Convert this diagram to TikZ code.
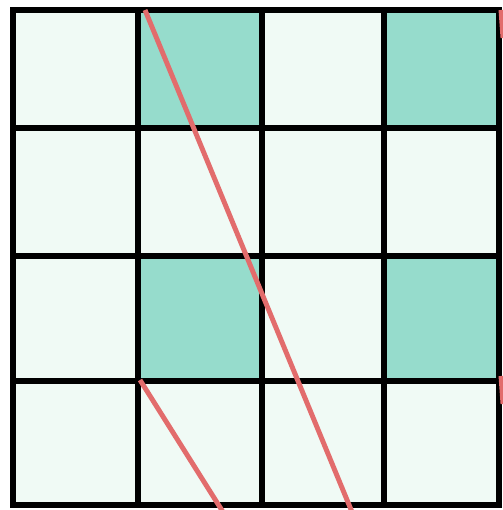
\documentclass[tikz,border=0pt]{standalone}
\usetikzlibrary{calc}
\definecolor{cellpale}{RGB}{240,250,245}
\definecolor{cellteal}{RGB}{150,220,204}
\definecolor{cutred}{RGB}{226,108,108}
\begin{document}
\begin{tikzpicture}[x=0.02cm, y=-0.02cm,
  gridline/.style={draw=black, line width=3.4pt, line cap=rect},
  cutline/.style={draw=cutred, line width=2.8pt}
]
  \useasboundingbox[fill=white] (0,0) rectangle (503,510);

  % cells
  \fill[cellpale] (13,10) rectangle (499,505);
  \fill[cellteal] (138,10) rectangle (262,128);
  \fill[cellteal] (384,10) rectangle (499,128);
  \fill[cellteal] (138,256) rectangle (262,381);
  \fill[cellteal] (384,256) rectangle (499,381);

  % grid
  \foreach \gx in {13,138,262,384,499}
    \draw[gridline] (\gx,10) -- (\gx,505);
  \foreach \gy in {10,128,256,381,505}
    \draw[gridline] (13,\gy) -- (499,\gy);

  % cuts
  \draw[cutline] (145,10) -- (352,512);
  \draw[cutline] (140,380) -- (223,512);
  \draw[cutline] (501,10) -- (503,38);
  \draw[cutline] (501,376) -- (503,404);
\end{tikzpicture}
\end{document}
